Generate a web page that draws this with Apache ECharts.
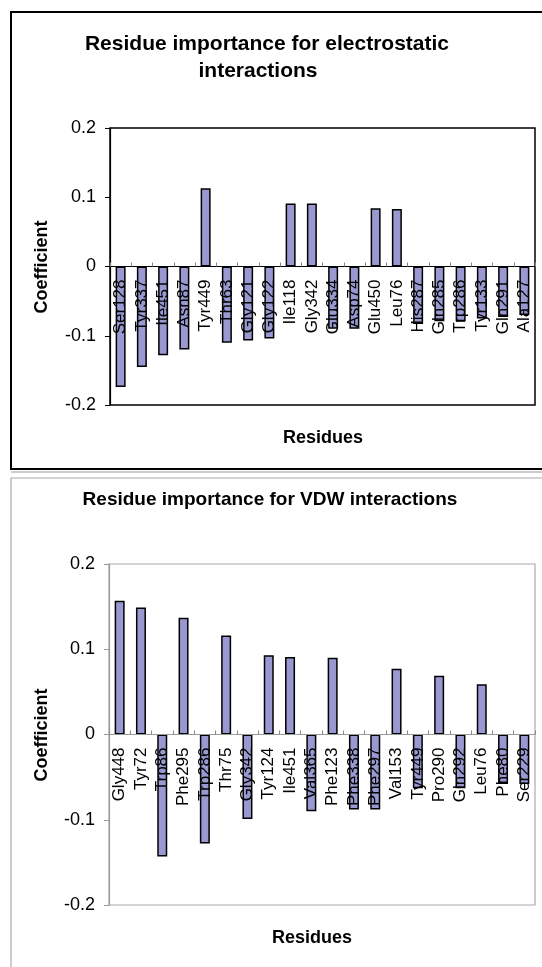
<!DOCTYPE html>
<html>
<head>
<meta charset="utf-8">
<script src="https://cdn.jsdelivr.net/npm/echarts@6/dist/echarts.min.js"></script>
<style>
html,body{margin:0;padding:0;background:#fff;}
#c{width:542px;height:967px;}
</style>
</head>
<body>
<div id="c"></div>
<script>
const elecResidues = ['Ser128','Tyr337','Ile451','Asn87','Tyr449','Thr63','Gly121','Gly122','Ile118','Gly342','Glu334','Asp74','Glu450','Leu76','His287','Gln285','Trp286','Tyr133','Gln291','Ala127'];
const elecCoef = [-0.174,-0.145,-0.128,-0.120,0.113,-0.110,-0.107,-0.104,0.091,0.091,-0.090,-0.090,0.084,0.083,-0.083,-0.079,-0.079,-0.075,-0.073,-0.070];
const vdwResidues = ['Gly448','Tyr72','Trp86','Phe295','Trp286','Thr75','Gly342','Tyr124','Ile451','Val365','Phe123','Phe338','Phe297','Val153','Tyr449','Pro290','Gln292','Leu76','Phe80','Ser229'];
const vdwCoef = [0.157,0.149,-0.143,0.137,-0.128,0.116,-0.099,0.093,0.091,-0.090,0.090,-0.088,-0.088,0.077,-0.063,0.069,-0.063,0.059,-0.057,-0.058];
const yTicks = [-0.2,-0.1,0,0.1,0.2];

const FONT = '"Liberation Sans", Arial, sans-serif';
const chart = echarts.init(document.getElementById('c'), null, {renderer:'canvas'});

function yAxis(gi, color){
  return {
    type:'value', gridIndex:gi, min:yTicks[0], max:yTicks[yTicks.length-1], interval:0.1,
    splitLine:{show:false},
    axisLine:{show:true, lineStyle:{color:color, width:1.2}},
    axisTick:{show:true, length:5, lineStyle:{color:color}},
    axisLabel:{fontSize:18, color:'#000', fontFamily:FONT, margin:14,
      formatter: v => { const r = Math.round(v*10)/10; return r===0 ? '0' : String(r); }}
  };
}
function xAxis(gi, data, color, off){
  return {
    type:'category', gridIndex:gi, data:data, z:5, position:'bottom', offset:off,
    axisLine:{show:true, onZero:false, lineStyle:{color:color, width:1.2}},
    axisTick:{show:true, inside:true, length:4, interval:0, lineStyle:{color:'#888'}},
    axisLabel:{rotate:90, interval:0, fontSize:17, color:'#000', fontFamily:FONT, margin:13}
  };
}
const barStyle = {color:'#9a98d0', borderColor:'#000', borderWidth:1.5};

chart.setOption({
  animation:false,
  backgroundColor:'#fff',
  grid:[
    {left:110, top:128, width:425, height:277, show:true, borderColor:'#000', borderWidth:1.5, backgroundColor:'transparent'},
    {left:109, top:564, width:426, height:341, show:true, borderColor:'#aaa', borderWidth:1.2, backgroundColor:'transparent'}
  ],
  xAxis:[xAxis(0, elecResidues, '#000', -138.5), xAxis(1, vdwResidues, '#999', -170.5)],
  yAxis:[yAxis(0, '#000'), yAxis(1, '#999')],
  series:[
    {type:'bar', xAxisIndex:0, yAxisIndex:0, data:elecCoef, barWidth:10, itemStyle:barStyle},
    {type:'bar', xAxisIndex:1, yAxisIndex:1, data:vdwCoef, barWidth:10, itemStyle:barStyle}
  ],
  graphic:[
    {type:'rect', shape:{x:11, y:12, width:540, height:457}, style:{fill:'none', stroke:'#000', lineWidth:2}, silent:true},
    {type:'line', shape:{x1:11, y1:472, x2:542, y2:472}, style:{stroke:'#bbb', lineWidth:1.5}, silent:true},
    {type:'rect', shape:{x:11, y:478, width:540, height:500}, style:{fill:'none', stroke:'#aaa', lineWidth:1.2}, silent:true},
    {type:'text', x:267, y:44, style:{text:'Residue importance for electrostatic', font:'bold 21px '+FONT, fill:'#000', textAlign:'center', textVerticalAlign:'middle'}},
    {type:'text', x:258, y:71, style:{text:'interactions', font:'bold 21px '+FONT, fill:'#000', textAlign:'center', textVerticalAlign:'middle'}},
    {type:'text', x:270, y:500, style:{text:'Residue importance for VDW interactions', font:'bold 19px '+FONT, fill:'#000', textAlign:'center', textVerticalAlign:'middle'}},
    {type:'text', x:323, y:438, style:{text:'Residues', font:'bold 18px '+FONT, fill:'#000', textAlign:'center', textVerticalAlign:'middle'}},
    {type:'text', x:312, y:938, style:{text:'Residues', font:'bold 18px '+FONT, fill:'#000', textAlign:'center', textVerticalAlign:'middle'}},
    {type:'text', x:42, y:267, rotation:Math.PI/2, style:{text:'Coefficient', font:'bold 18px '+FONT, fill:'#000', textAlign:'center', textVerticalAlign:'middle'}},
    {type:'text', x:42, y:735, rotation:Math.PI/2, style:{text:'Coefficient', font:'bold 18px '+FONT, fill:'#000', textAlign:'center', textVerticalAlign:'middle'}}
  ]
});
</script>
</body>
</html>
